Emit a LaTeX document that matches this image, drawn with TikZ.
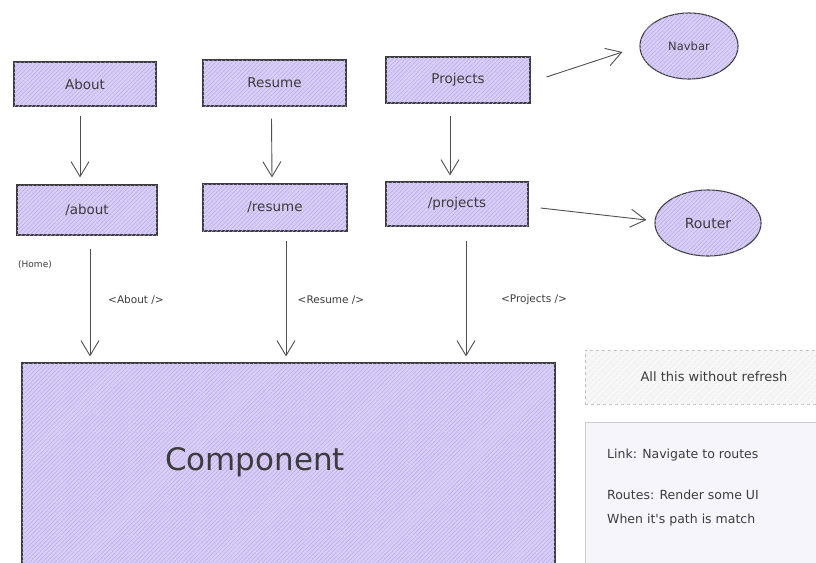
\documentclass[tikz,border=0pt]{standalone}
\usepackage{fontspec}
\setmainfont{DejaVu Sans}
\usetikzlibrary{arrows.meta,shapes.geometric,patterns.meta,calc}
\definecolor{boxfill}{RGB}{216,206,247}
\definecolor{hatch}{RGB}{185,170,230}
\definecolor{ink}{RGB}{60,60,60}
\definecolor{notefill}{RGB}{246,245,252}
\definecolor{greyfill}{RGB}{247,247,247}
\tikzset{
  hbox/.style={draw=ink, line width=1.1pt, fill=boxfill, text=ink, font=\fontsize{13.5}{15}\selectfont,
    postaction={pattern={Lines[angle=45,distance=3pt,line width=0.5pt]}, pattern color=hatch}},
  rbox/.style={hbox, rectangle, inner sep=0pt},
  ebox/.style={hbox, ellipse, inner sep=0pt},
  conn/.style={draw=ink!90, line width=0.9pt, -{Straight Barb[length=15pt,width=18pt,line width=0.9pt]}},
  lbl/.style={text=ink, font=\fontsize{10.5}{12}\selectfont, inner sep=0pt},
}
\begin{document}
\begin{tikzpicture}[x=1pt,y=-1pt]
\useasboundingbox (0,0) rectangle (816,562);
\fill[white] (0,0) rectangle (816,562);
% top row
\node[rbox, minimum width=142pt, minimum height=44pt] (About) at (85,84) {About};
\node[rbox, minimum width=143pt, minimum height=46pt] (Resume) at (274.5,83) {Resume};
\node[rbox, minimum width=144pt, minimum height=46pt] (Projects) at (458,80) {Projects};
% second row
\node[rbox, minimum width=140pt, minimum height=50pt] (aboutR) at (87,210) {/about};
\node[rbox, minimum width=144pt, minimum height=47pt] (resumeR) at (275,207.5) {/resume};
\node[rbox, minimum width=142pt, minimum height=44pt] (projectsR) at (457,204) {/projects};
% ellipses
\node[ebox, minimum width=98pt, minimum height=66pt, font=\fontsize{11.5}{13}\selectfont] (Navbar) at (689,46) {Navbar};
\node[ebox, minimum width=106pt, minimum height=66pt, font=\fontsize{14}{16}\selectfont] (Router) at (708,223) {Router};
% component
\node[rbox, minimum width=533pt, minimum height=206pt] (Component) at (288.5,466) {};
\node[text=ink, font=\fontsize{31}{34}\selectfont] (ctext) at (255,462) {Component};
% side boxes
\node[draw=black!25, dashed, line width=0.8pt, fill=greyfill, rectangle, minimum width=250pt, minimum height=54pt,
  postaction={pattern={Lines[angle=45,distance=4pt,line width=0.4pt]}, pattern color=black!10}] (Refresh) at (710,377) {};
\node[lbl, font=\fontsize{13}{15}\selectfont] (rtext) at (714,377) {All this without refresh};
\node[draw=black!20, line width=0.8pt, fill=notefill, rectangle, minimum width=250pt, minimum height=155pt] (Notes) at (710,499.5) {};
\node[lbl, anchor=west, font=\fontsize{12.5}{14}\selectfont] (n1) at (607,455) {Link: Navigate to routes};
\node[lbl, anchor=west, font=\fontsize{12.5}{14}\selectfont] (n2) at (607,495) {Routes: Render some UI};
\node[lbl, anchor=west, font=\fontsize{12.5}{14}\selectfont] (n3) at (607,520) {When it\textquotesingle s path is match};
% labels
\node[lbl, font=\fontsize{9}{10}\selectfont] (home) at (35,265) {(Home)};
\node[lbl] (la) at (136,300) {<About />};
\node[lbl] (lr) at (331,300) {<Resume />};
\node[lbl] (lp) at (534,300) {<Projects />};
% connectors
\draw[conn] ([shift={(-5,9)}]About.south) -- ([shift={(-7,-7)}]aboutR.north);
\draw[conn] ([shift={(-3,12)}]Resume.south) -- ([shift={(-3,-6)}]resumeR.north);
\draw[conn] ([shift={(-8,12)}]Projects.south) -- ([shift={(-7,-6)}]projectsR.north);
\draw[conn] ([shift={(16,-3)}]Projects.east) -- ([shift={(-17,6)}]Navbar.west);
\draw[conn] ([shift={(12,4)}]projectsR.east) -- ([shift={(-8,-3)}]Router.west);
\draw[conn] ([shift={(3,13)}]aboutR.south) -- ($(aboutR.south |- Component.north)+(3,-6)$);
\draw[conn] ([shift={(11,9)}]resumeR.south) -- ($(resumeR.south |- Component.north)+(11,-6)$);
\draw[conn] ([shift={(9,14)}]projectsR.south) -- ($(projectsR.south |- Component.north)+(9,-6)$);
\end{tikzpicture}
\end{document}
